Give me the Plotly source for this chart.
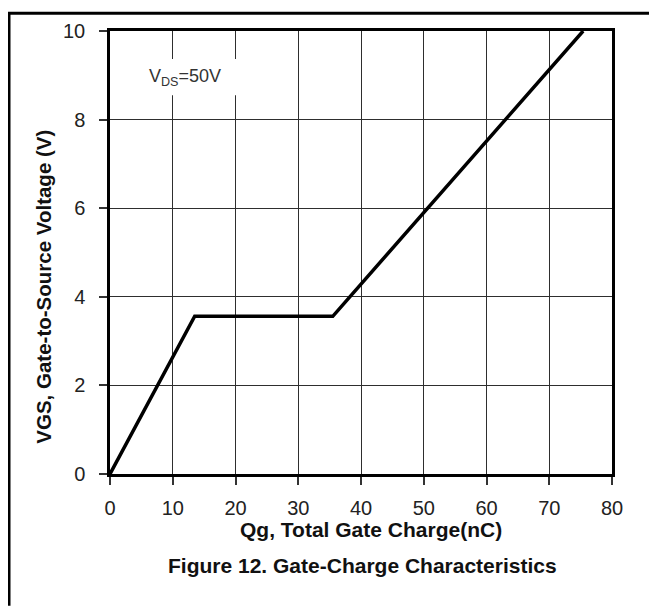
import plotly.graph_objects as go

# Data
qg_nC = [0, 13.5, 35.5, 75.4]
vgs_V = [0, 3.56, 3.56, 10]

x_ticks = [0, 10, 20, 30, 40, 50, 60, 70, 80]
y_ticks = [0, 2, 4, 6, 8, 10]

x_title = "Qg, Total Gate Charge(nC)"
y_title = "VGS, Gate-to-Source Voltage (V)"
caption = "Figure 12. Gate-Charge Characteristics"
note = "V<sub>DS</sub>=50V"

FONT = "Liberation Sans, Arial, sans-serif"
OFF = 8  # default page body margin
W, H = 657 - OFF, 607 - OFF
L, T = 110 - OFF, 27 - OFF
pw, ph = 502, 447
R, B = W - L - pw, H - T - ph

def px_x(sx):  # screen px -> paper x
    return (sx - OFF - L) / pw

def px_y(sy):  # screen px -> paper y
    return (T + ph - (sy - OFF)) / ph

fig = go.Figure()
fig.add_trace(go.Scatter(
    x=qg_nC, y=vgs_V, mode="lines",
    line=dict(color="black", width=3.5),
    hoverinfo="skip", showlegend=False,
))

axis_common = dict(
    showgrid=True, gridcolor="#2e2e2e", gridwidth=1.3,
    showline=True, linecolor="black", linewidth=2.5, mirror=True,
    ticks="outside", ticklen=8, tickwidth=1.5, tickcolor="#333",
    tickfont=dict(family=FONT, size=20, color="#222"),
    zeroline=False, fixedrange=True,
)

fig.update_layout(
    width=W, height=H,
    margin=dict(l=L, r=R, t=T, b=B, pad=0),
    paper_bgcolor="white", plot_bgcolor="white",
    xaxis=dict(range=[0, 80], tickvals=x_ticks, ticklabelstandoff=6, **axis_common),
    yaxis=dict(range=[0, 10], tickvals=y_ticks, ticklabelstandoff=10, **axis_common),
    font=dict(family=FONT),
)

# white box behind the VDS note (interrupts the gridlines)
fig.add_shape(type="rect", xref="x", yref="y",
              x0=4.7, x1=20.8, y0=8.55, y1=9.37,
              fillcolor="white", line=dict(width=0), layer="between")

fig.add_annotation(x=11.9, y=8.96, xref="x", yref="y", text=note,
                   showarrow=False, xanchor="center", yanchor="middle",
                   font=dict(family=FONT, size=18, color="#333"))

fig.add_annotation(x=px_x(371), y=px_y(530), xref="paper", yref="paper",
                   text="<b>" + x_title + "</b>", showarrow=False,
                   xanchor="center", yanchor="middle",
                   font=dict(family=FONT, size=21, color="#111"))
fig.add_annotation(x=px_x(362), y=px_y(566), xref="paper", yref="paper",
                   text="<b>" + caption + "</b>", showarrow=False,
                   xanchor="center", yanchor="middle",
                   font=dict(family=FONT, size=21, color="#111"))
fig.add_annotation(x=px_x(44), y=px_y(285), xref="paper", yref="paper",
                   text="<b>" + y_title + "</b>", showarrow=False, textangle=-90,
                   xanchor="center", yanchor="middle",
                   font=dict(family=FONT, size=20.5, color="#111"))

# outer frame lines (top and left), drawn at the figure's own edge
fig.add_shape(type="line", xref="paper", yref="paper",
              x0=-L / pw, x1=(W - L) / pw, y0=(T + ph - 1) / ph, y1=(T + ph - 1) / ph,
              line=dict(color="black", width=3))
fig.add_shape(type="line", xref="paper", yref="paper",
              x0=(1 - L) / pw, x1=(1 - L) / pw, y0=(T + ph) / ph, y1=-B / ph,
              line=dict(color="black", width=3))

fig.write_html("out.html")
